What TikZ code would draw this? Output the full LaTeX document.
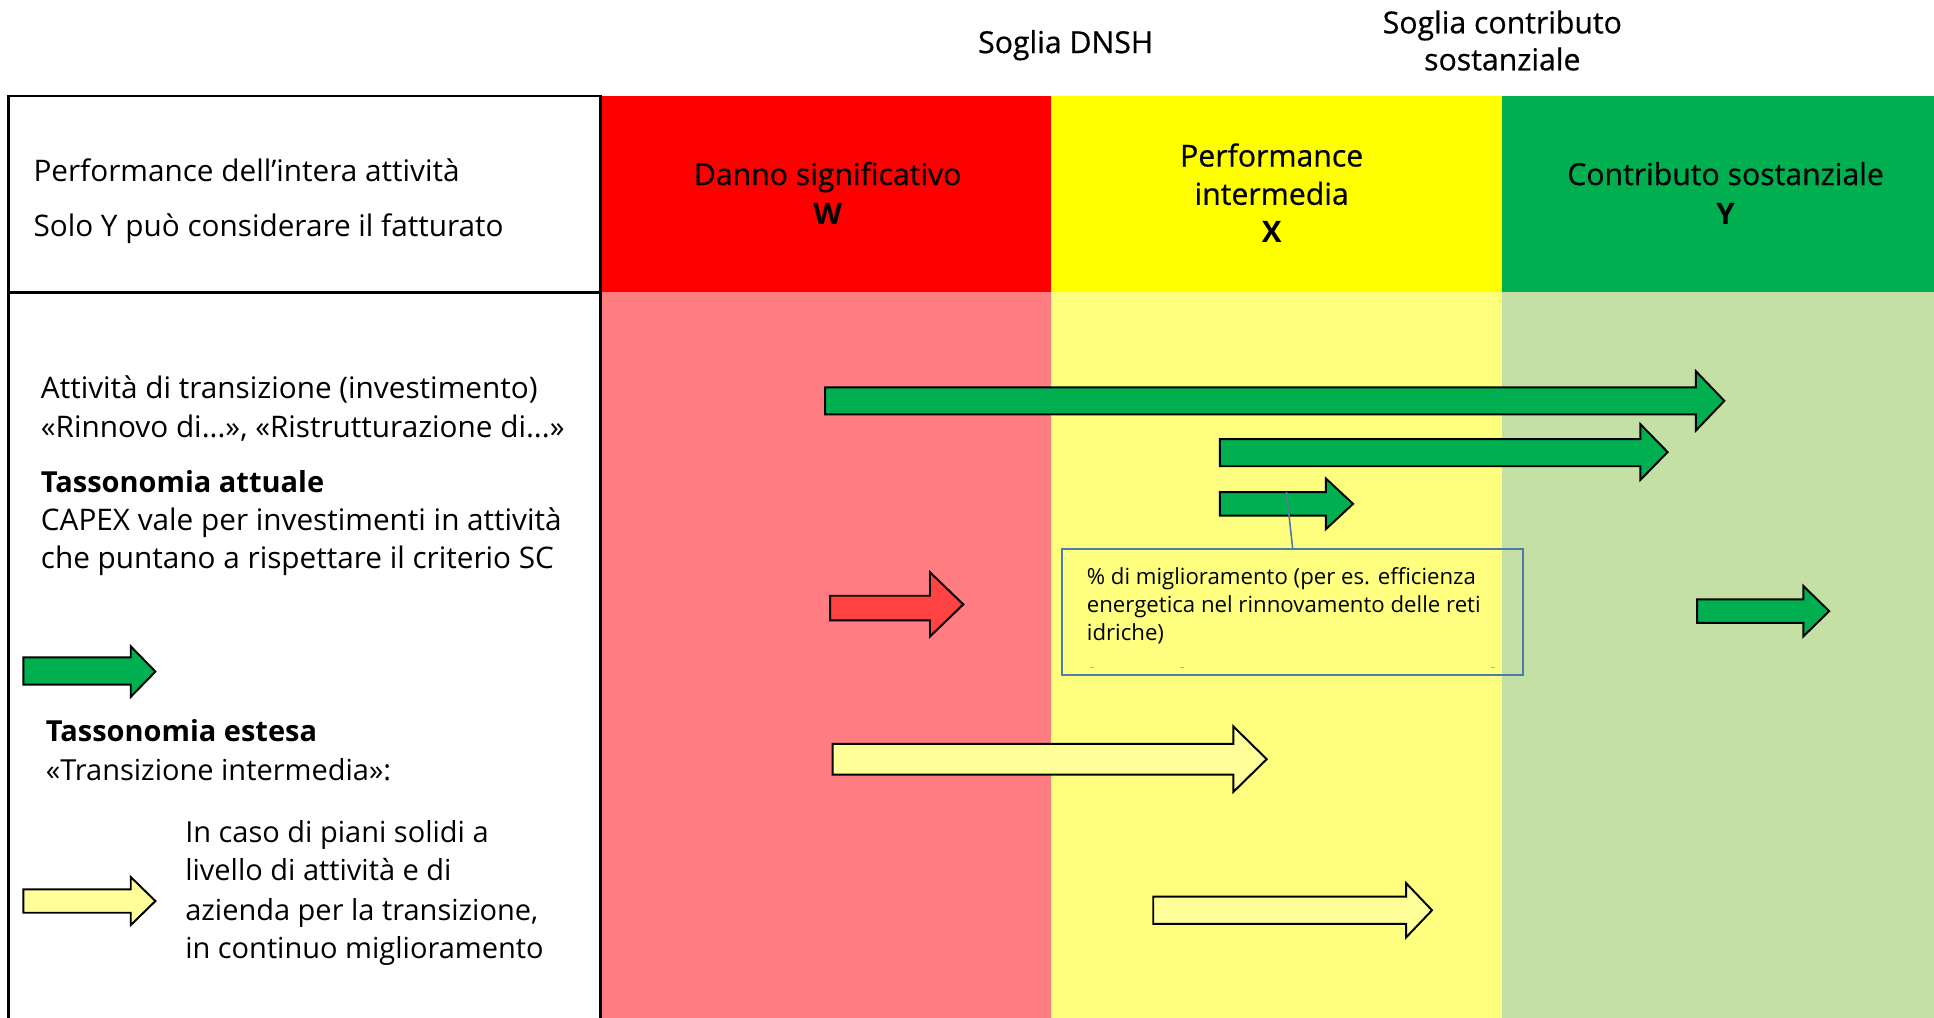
\documentclass[tikz,border=0pt]{standalone}
\usepackage{fontspec}
\setmainfont{Open Sans}
\newfontfamily\medfont{Open Sans}[FakeBold=0.6]
\definecolor{hred}{HTML}{FF0000}
\definecolor{hyel}{HTML}{FFFF00}
\definecolor{hgrn}{HTML}{00B050}
\definecolor{lred}{HTML}{FF7C80}
\definecolor{lyel}{HTML}{FFFF7F}
\definecolor{lgrn}{HTML}{C5E0A5}
\definecolor{agrn}{HTML}{00B050}
\definecolor{ared}{HTML}{FF4343}
\definecolor{ayel}{HTML}{FFFF99}
\definecolor{cblue}{HTML}{4D7CA8}
\newcommand\myarrow[8]{%
  \filldraw[arr, fill=#8] (#1,#2) -- (#4,#2) -- (#4,#5) -- (#7,{(#5+#6)/2}) -- (#4,#6) -- (#4,#3) -- (#1,#3) -- cycle;}
\begin{document}
\begin{tikzpicture}[x=1pt,y=-1pt,
  txt/.style={inner sep=0pt, font=\fontsize{23.5}{31}\selectfont},
  lt/.style={txt, anchor=base west},
  lt2/.style={inner sep=0pt, anchor=base west, font=\fontsize{24.1}{31}\selectfont},
  hd/.style={inner sep=0pt, anchor=base, font=\fontsize{24.5}{31}\selectfont\medfont},
  bt/.style={lt, font=\fontsize{23.5}{31}\selectfont\bfseries},
  bct/.style={inner sep=0pt, anchor=base, font=\fontsize{24}{31}\selectfont\bfseries},
  note/.style={inner sep=0pt, anchor=base west, font=\fontsize{18}{23}\selectfont},
  arr/.style={draw=black, line width=1.6pt, line join=miter},
  frame/.style={draw=black, line width=2pt},
  conn/.style={draw=cblue, line width=1.3pt}]
\useasboundingbox (0,0) rectangle (1568,825);
\fill[white] (0,0) rectangle (1568,825);
% header bands
\fill[hred] (487,78) rectangle (852,237);
\fill[hyel] (852,78) rectangle (1218,237);
\fill[hgrn] (1218,78) rectangle (1568,237);
% body bands
\fill[lred] (487,237) rectangle (852,825);
\fill[lyel] (852,237) rectangle (1218,825);
\fill[lgrn] (1218,237) rectangle (1568,825);
% left box
\draw[frame] (7,78) rectangle (487,237);
\draw[frame] (7,237) -- (7,830);
\draw[frame] (487,237) -- (487,830);
% top labels
\node[hd] (dnsh) at (864,43) {Soglia DNSH};
\node[hd] (sc1) at (1218,27) {Soglia contributo};
\node[hd] (sc2) at (1218,57) {sostanziale};
% left header
\node[lt2] (h1) at (27,147) {Performance dell’intera attività};
\node[lt2] (h2) at (27,192) {Solo Y può considerare il fatturato};
% column headers
\node[hd] (w1) at (671,150) {Danno significativo};
\node[bct] (w2) at (671,182) {W};
\node[hd] (x1) at (1031,135) {Performance};
\node[hd] (x2) at (1031,166) {intermedia};
\node[bct] (x3) at (1031,197) {X};
\node[hd] (y1) at (1399,150) {Contributo sostanziale};
\node[bct] (y2) at (1399,182) {Y};
% left body texts
\node[lt2] (t1) at (33,323) {Attività di transizione (investimento)};
\node[lt2] (t2) at (33,355) {«Rinnovo di...», «Ristrutturazione di...»};
\node[bt] (t3) at (33,399) {Tassonomia attuale};
\node[lt2] (t4) at (33,430) {CAPEX vale per investimenti in attività};
\node[lt2] (t5) at (33,461) {che puntano a rispettare il criterio SC};
\node[bt] (e1) at (37,601) {Tassonomia estesa};
\node[lt] (e2) at (37,633) {«Transizione intermedia»:};
\node[lt] (p1) at (150,683) {In caso di piani solidi a};
\node[lt] (p2) at (150,714) {livello di attività e di};
\node[lt] (p3) at (150,746) {azienda per la transizione,};
\node[lt] (p4) at (150,777) {in continuo miglioramento};
% legend arrows
\myarrow{19}{533}{555}{106}{524}{565}{126}{agrn}
\myarrow{19}{721}{740}{106}{711}{750}{126}{ayel}
% chart arrows
\myarrow{669}{314}{336}{1375}{301}{349}{1398}{agrn}
\myarrow{989}{356}{378}{1330}{344}{389}{1352}{agrn}
\myarrow{989}{399}{418}{1075}{388}{429}{1097}{agrn}
\myarrow{673}{483}{503}{754}{464}{516}{781}{ared}
\myarrow{1376}{486}{505}{1462}{475}{516}{1483}{agrn}
\myarrow{675}{603}{628}{1000}{589}{642}{1027}{ayel}
\myarrow{935}{727}{749}{1140}{716}{760}{1161}{ayel}
% callout
\node[draw=cblue, line width=1.5pt, minimum width=374pt, minimum height=102pt, inner sep=0pt] (callout) at (1048,496) {};
\coordinate (a3top) at (1043,399);
\draw[conn] (callout.north) -- (a3top);
\node[note] (n1) at (881,473.5) {\% di miglioramento (per es. efficienza};
\node[note] (n2) at (881,496.5) {energetica nel rinnovamento delle reti};
\node[note] (n3) at (881,519.5) {idriche)};
\draw[gray!60, line width=0.8pt] (884,541) -- (887,541) (957,541) -- (960,541) (1209,541) -- (1212,541);
\end{tikzpicture}
\end{document}
